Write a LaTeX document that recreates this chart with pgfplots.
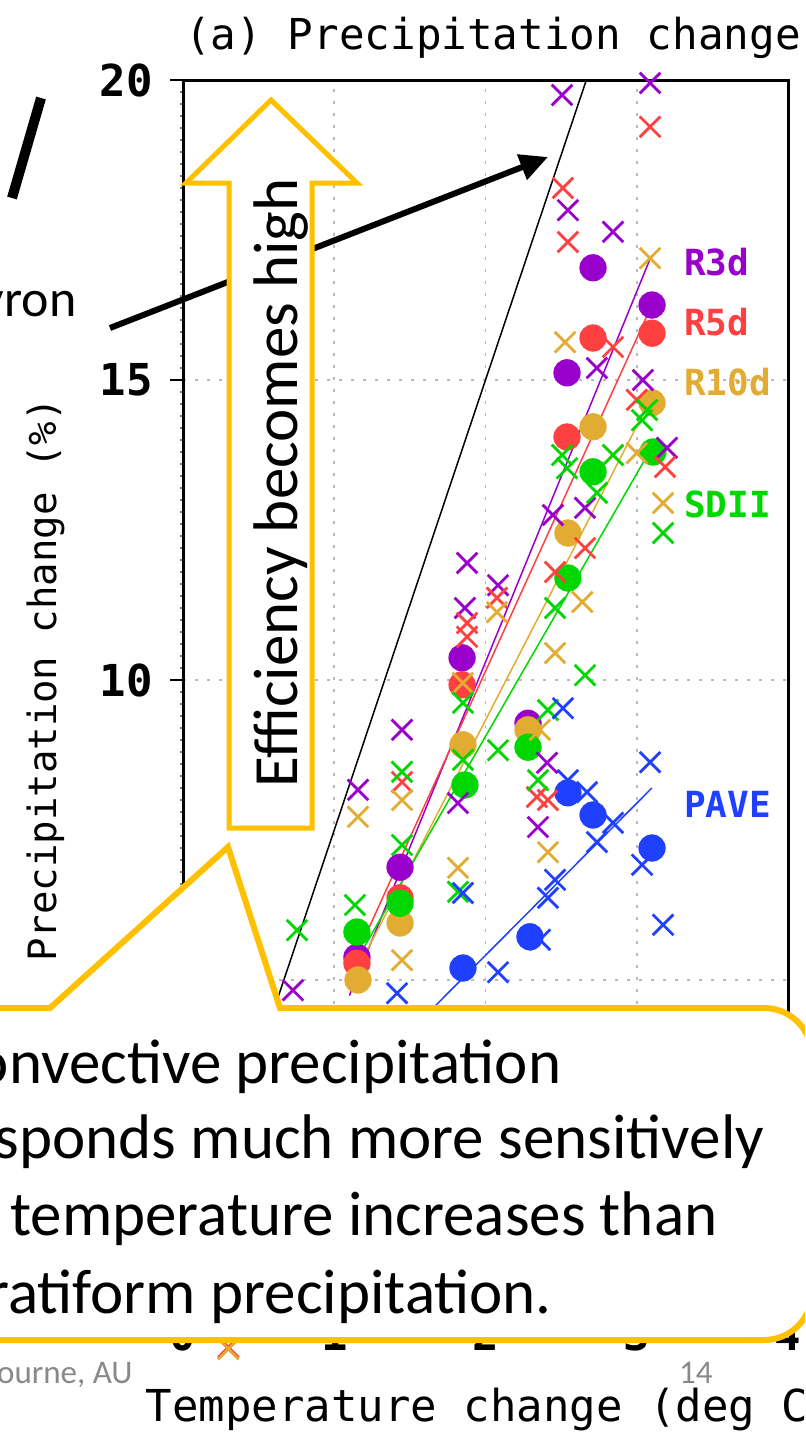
\documentclass[border=0pt]{standalone}
\usepackage{pgfplots}
\pgfplotsset{compat=1.18}
\usepackage{pgfplotstable}
\usepackage{graphicx}
\usepackage{fontspec}
\setmainfont{Carlito}
\newfontfamily\grads{DejaVu Sans Mono}
\usetikzlibrary{arrows.meta}
\definecolor{cRa}{RGB}{153,0,204}
\definecolor{cRb}{RGB}{255,64,64}
\definecolor{cRc}{RGB}{226,172,50}
\definecolor{cSD}{RGB}{0,215,0}
\definecolor{cPA}{RGB}{32,64,255}
\definecolor{callout}{RGB}{255,192,0}
\definecolor{foot}{RGB}{137,137,137}

% R3d
\pgfplotstableread{
x y
2.506 19.75
3.088 19.95
2.545 17.83
2.843 17.47
2.737 15.20
3.041 15.00
3.200 13.87
2.446 12.75
2.658 12.87
1.878 11.95
2.083 11.58
1.864 11.20
1.818 7.95
2.407 8.62
2.347 7.55
1.448 9.17
1.157 8.17
0.727 4.83
}\RaX
\pgfplotstableread{
x y
2.711 16.87
3.101 16.25
2.539 15.12
1.845 10.37
2.281 9.28
1.435 6.88
1.150 5.38
}\RaO
% R5d
\pgfplotstableread{
x y
3.088 19.22
2.512 18.20
2.545 17.30
2.843 15.55
3.000 14.67
3.187 13.55
2.658 12.20
2.460 11.80
1.878 10.95
1.878 10.72
2.076 11.37
2.340 8.05
2.413 8.00
1.448 8.30
0.300 -1.12
}\RbX
\pgfplotstableread{
x y
3.101 15.78
2.711 15.70
2.539 14.05
1.845 9.92
1.435 6.37
1.150 5.28
}\RbO
% R10d
\pgfplotstableread{
x y
3.088 17.03
2.526 15.63
2.843 13.75
3.000 13.78
3.174 12.95
2.640 11.30
2.076 11.13
2.460 10.45
2.360 9.17
2.413 7.13
1.850 9.95
1.448 8.00
1.157 7.72
1.818 6.87
1.448 5.33
0.300 -1.15
}\RcX
\pgfplotstableread{
x y
3.101 14.62
2.711 14.22
2.545 12.45
1.851 8.92
2.281 9.17
1.435 5.95
1.157 5.00
}\RcO
% SDII
\pgfplotstableread{
x y
3.068 14.50
3.035 14.33
2.506 13.75
2.539 13.53
2.843 13.75
2.737 13.12
3.174 12.45
2.460 11.20
2.658 10.08
2.413 9.50
1.851 9.62
1.851 8.67
2.083 8.83
2.347 8.33
1.818 6.47
1.448 8.47
1.448 7.25
1.137 6.25
0.754 5.83
}\SDX
\pgfplotstableread{
x y
3.107 13.80
2.711 13.47
2.545 11.70
1.864 8.25
2.281 8.88
1.435 6.28
1.150 5.80
}\SDO
% PAVE
\pgfplotstableread{
x y
2.512 9.53
3.088 8.63
2.545 8.33
2.671 8.13
2.843 7.62
2.737 7.30
3.035 6.92
3.174 5.92
2.460 6.67
2.413 6.37
2.360 5.67
2.083 5.13
1.851 6.45
1.415 4.78
}\PAX
\pgfplotstableread{
x y
2.545 8.12
2.711 7.75
3.101 7.20
2.294 5.72
1.851 5.20
}\PAO

\pgfplotsset{
  xm/.style={only marks, mark=x, mark size=7.3pt, color=#1, mark options={line width=1.4pt}},
  cm/.style={only marks, mark=*, mark size=6.6pt, color=#1, mark options={draw=#1, fill=#1}},
  fl/.style={color=#1, line width=0.75pt, no marks},
}

\begin{document}
\begin{tikzpicture}
\useasboundingbox (0,0) rectangle (402.5pt,-720pt);
\clip (0,0) rectangle (402.5pt,-720pt);
\begin{axis}[
  at={(91.5pt,-640pt)}, anchor=south west,
  scale only axis, width=302.5pt, height=600pt,
  xmin=0, xmax=4, ymin=0, ymax=20,
  xtick={0,1,2,3,4}, ytick={0,5,10,15,20},
  minor x tick num=9, minor y tick num=24,
  tick align=outside, tick pos=left,
  major tick length=6.5pt, minor tick length=1.5pt,
  major tick style={black, line width=1pt},
  minor tick style={gray, line width=0.8pt},
  grid=major,
  major grid style={gray!55, line width=0.9pt, dash pattern=on 1.6pt off 4.4pt},
  axis line style={line width=1.5pt},
  clip=false,
  /pgf/number format/assume math mode=true,
  ticklabel style={font=\grads\bfseries\fontsize{22}{24}\selectfont},
  xticklabel style={yshift=-9pt},
  yticklabel style={xshift=-5pt},
  every axis title shift=0pt,
  title={(a) Precipitation change},
  title style={at={(axis description cs:0.003,1.035)}, anchor=west, font=\grads\fontsize{21.3}{24}\selectfont, inner sep=0pt},
  xlabel={Temperature change (deg C)},
  xlabel style={at={(axis description cs:0.508,-0.1083)}, anchor=center, font=\grads\fontsize{22}{24}\selectfont, inner sep=0pt},
  ylabel={Precipitation change (\%)},
  ylabel style={at={(axis description cs:-0.2265,0.5)}, anchor=center, font=\grads\fontsize{19.5}{22}\selectfont, inner sep=0pt},
]
% Clausius-Clapeyron line
\addplot[black, line width=0.75pt, no marks] coordinates {(0,0) (2.6667,20)};
% circles
\addplot[cm=cRa] table {\RaO};
\addplot[cm=cRb] table {\RbO};
\addplot[cm=cRc] table {\RcO};
\addplot[cm=cSD] table {\SDO};
\addplot[cm=cPA] table {\PAO};
% fit lines
\addplot[fl=cRa] coordinates {(1.10,4.74) (3.09,17.03)};
\addplot[fl=cRb] coordinates {(1.10,5.15) (3.10,16.25)};
\addplot[fl=cRc] coordinates {(1.10,4.92) (3.10,14.72)};
\addplot[fl=cSD] coordinates {(1.10,5.12) (3.11,13.92)};
\addplot[fl=cPA] coordinates {(1.10,3.13) (3.10,8.20)};
% crosses
\addplot[xm=cRa] table {\RaX};
\addplot[xm=cRb] table {\RbX};
\addplot[xm=cRc] table {\RcX};
\addplot[xm=cSD] table {\SDX};
\addplot[xm=cPA] table {\PAX};
% series labels
\node[anchor=west, text=cRa, font=\grads\bfseries\fontsize{18}{20}\selectfont, inner sep=0pt] at (axis cs:3.31,16.97) {R3d};
\node[anchor=west, text=cRb, font=\grads\bfseries\fontsize{18}{20}\selectfont, inner sep=0pt] at (axis cs:3.31,15.97) {R5d};
\node[anchor=west, text=cRc, font=\grads\bfseries\fontsize{18}{20}\selectfont, inner sep=0pt] at (axis cs:3.31,14.97) {R10d};
\node[anchor=west, text=cSD, font=\grads\bfseries\fontsize{18}{20}\selectfont, inner sep=0pt] at (axis cs:3.31,12.93) {SDII};
\node[anchor=west, text=cPA, font=\grads\bfseries\fontsize{18}{20}\selectfont, inner sep=0pt] at (axis cs:3.31,7.92) {PAVE};
\end{axis}

\begin{scope}[x=0.5pt,y=-0.5pt]
% slide fragments
\draw[line width=5pt] (41,98) -- (12,198);
\node[anchor=base east, font=\fontsize{26}{30}\selectfont, inner sep=0pt] at (77,316) {Clausius-Clapeyron};
% black arrow
\draw[line width=3pt, -{Triangle[length=14pt,width=13pt]}] (110,328) -- (548,157);
% yellow block arrow
\draw[draw=callout, fill=white, line width=2.5pt, line join=miter]
  (229,828) -- (229,183) -- (186,183) -- (271,100) -- (357,183) -- (312,183) -- (312,828) -- cycle;
\node[rotate=90, anchor=base, font=\fontsize{31.5}{36}\selectfont, inner sep=0pt] at (297,483) {Efficiency becomes high};
% callout
\draw[draw=callout, fill=white, line width=3pt, line join=miter]
  (-100,1008) -- (50,1008) -- (228,847) -- (280,1008) -- (300,1008)
  [rounded corners=24pt] -- (812,1008) -- (812,1340) -- (700,1340)
  [sharp corners] -- (-100,1340) -- cycle;
\node[anchor=base west, font=\fontsize{31.5}{36}\selectfont, inner sep=0pt] at (-58,1083) {Convective precipitation};
\node[anchor=base west, font=\fontsize{31.5}{36}\selectfont, inner sep=0pt] at (-58,1158) {responds much more sensitively};
\node[anchor=base west, font=\fontsize{31.5}{36}\selectfont, inner sep=0pt] at (-58,1235) {to temperature increases than};
\node[anchor=base west, font=\fontsize{31.5}{36}\selectfont, inner sep=0pt] at (-58,1313) {stratiform precipitation.};
% footer
\node[anchor=base east, text=foot, font=\fontsize{16.5}{19}\selectfont, inner sep=0pt] at (133,1383) {Melbourne, AU};
\node[anchor=base east, text=foot, font=\fontsize{16.5}{19}\selectfont, inner sep=0pt] at (713,1383) {14};
\end{scope}
\end{tikzpicture}
\end{document}
